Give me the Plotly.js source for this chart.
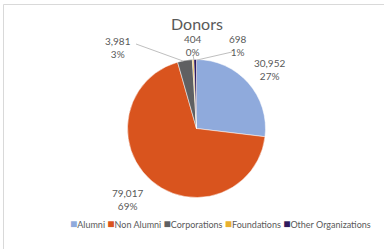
<!DOCTYPE html>
<html><head><meta charset="utf-8">
<script src="https://cdn.plot.ly/plotly-3.0.1.min.js"></script>
<style>html,body{margin:0;padding:0;background:#fff;}#c{width:384px;height:249px;}</style>
</head><body><div id="c"></div>
<script>
const labels = ["Alumni", "Non Alumni", "Corporations", "Foundations", "Other Organizations"];
const values = [30952, 79017, 3981, 404, 698];
const colors = ["#8FAADC", "#D9541E", "#5F6062", "#E8B030", "#2E1A5E"];
const chartTitle = "Donors";

const W = 384, H = 249;
const px = (x) => x / W, py = (y) => 1 - y / H;
const total = values.reduce((a, b) => a + b, 0);
const fmt = (v) => v.toLocaleString("en-US");
const pct = (v) => Math.round(100 * v / total) + "%";
const lab = (i) => fmt(values[i]) + "<br>" + pct(values[i]);

// label positions (pixels) for each slice: Alumni, Non Alumni, Corporations, Foundations, Other
const labelPos = [[269, 69], [127, 199], [118, 48], [193, 45], [238, 45]];

const fam = "Lato, 'Open Sans', sans-serif";
const lblFont = {family: fam, size: 10, color: "#595959"};
const annotations = labels.map((l, i) => ({
  xref: "paper", yref: "paper", x: px(labelPos[i][0]), y: py(labelPos[i][1]),
  text: lab(i), showarrow: false, font: lblFont, align: "center",
  xanchor: "center", yanchor: "middle"
}));

annotations.push({
  xref: "paper", yref: "paper", x: px(197), y: py(23),
  text: chartTitle, showarrow: false,
  font: {family: fam, size: 16, color: "#595959"},
  xanchor: "center", yanchor: "middle"
});

annotations.push({
  xref: "paper", yref: "paper", x: px(220), y: py(223),
  text: labels.map((l, i) => "<span style='color:" + colors[i] + ";font-size:12px'>■</span>" + l).join(" "),
  showarrow: false, font: {family: fam, size: 9, color: "#595959"},
  xanchor: "center", yanchor: "middle"
});

const lineStyle = {color: "#BFBFBF", width: 1};
const shapes = [
  {type: "rect", xref: "paper", yref: "paper", x0: px(3.5), x1: px(390), y0: py(4.5), y1: py(260), line: {color: "#D9D9D9", width: 1}},
  {type: "line", xref: "paper", yref: "paper", x0: px(136), y0: py(44), x1: px(183), y1: py(61), line: lineStyle},
  {type: "line", xref: "paper", yref: "paper", x0: px(193), y0: py(55), x1: px(194), y1: py(60), line: lineStyle},
  {type: "line", xref: "paper", yref: "paper", x0: px(232), y0: py(52), x1: px(197), y1: py(60), line: lineStyle}
];

const data = [{
  type: "pie", labels: labels, values: values, sort: false, direction: "clockwise", rotation: 0,
  marker: {colors: colors, line: {color: "#FFFFFF", width: 0.5}},
  textinfo: "none", hoverinfo: "label+value+percent",
  domain: {x: [px(127.5), px(265.5)], y: [py(197.5), py(59.5)]},
  showlegend: false
}];

const layout = {
  width: W, height: H, margin: {l: 0, r: 0, t: 0, b: 0},
  paper_bgcolor: "#FFFFFF", plot_bgcolor: "#FFFFFF",
  showlegend: false, annotations: annotations, shapes: shapes
};
Plotly.newPlot("c", data, layout, {displayModeBar: false, staticPlot: true});
</script></body></html>
